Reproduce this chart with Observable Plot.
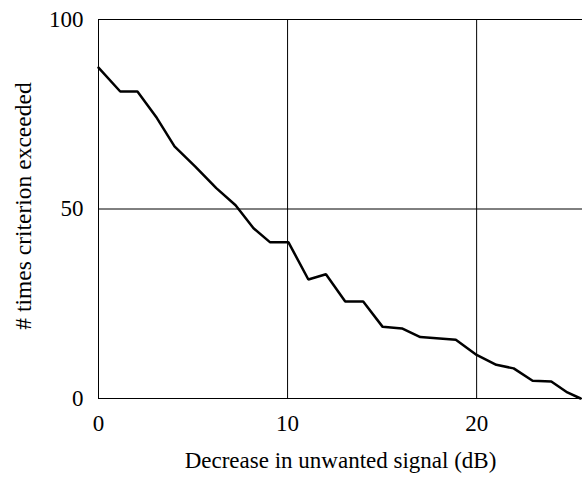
<!DOCTYPE html>
<html>
<head>
<meta charset="utf-8">
<script src="https://cdn.jsdelivr.net/npm/d3@7"></script>
<script src="https://cdn.jsdelivr.net/npm/@observablehq/plot@0.6"></script>
<style>
  html, body { margin: 0; padding: 0; background: #fff; }
  #chart svg { display: block; }
</style>
</head>
<body>
<div id="chart"></div>
<script>
const decreaseDb = [0, 1.15, 2.06, 3.09, 4.02, 5.12, 6.23, 7.25, 8.2, 9.08, 10.05, 11.1, 12.03, 13.05, 14.0, 15.03, 16.05, 17.02, 18.9, 20.0, 21.04, 21.96, 22.96, 23.95, 24.8, 25.5];
const timesExceeded = [87.3, 81.0, 81.0, 74.0, 66.5, 61.2, 55.5, 51.0, 44.9, 41.2, 41.2, 31.4, 32.8, 25.6, 25.6, 18.9, 18.5, 16.2, 15.5, 11.5, 8.9, 7.95, 4.7, 4.5, 1.6, 0];
const xTicks = [0, 10, 20];
const yTicks = [0, 50, 100];
const xLabel = "Decrease in unwanted signal (dB)";
const yLabel = "# times criterion exceeded";

const data = decreaseDb.map((x, i) => ({x, y: timesExceeded[i]}));

const chart = Plot.plot({
  width: 582,
  height: 477,
  marginLeft: 98,
  marginRight: 0,
  marginTop: 19,
  marginBottom: 79,
  style: {fontFamily: "'Liberation Serif', 'Times New Roman', serif", fontSize: "23px", color: "#000", background: "#fff"},
  x: {domain: [0, 25.6], ticks: xTicks, tickSize: 0, tickPadding: 16, label: null},
  y: {domain: [0, 100], ticks: yTicks, tickSize: 0, tickPadding: 15, label: null},
  marks: [
    Plot.ruleY(yTicks, {stroke: "#000", strokeWidth: 1}),
    Plot.ruleX(xTicks, {y1: 0, y2: 100, stroke: "#000", strokeWidth: 1}),
    Plot.line(data, {x: "x", y: "y", stroke: "#000", strokeWidth: 2.5, strokeLinejoin: "miter"}),
    Plot.text([xLabel], {frameAnchor: "bottom", textAnchor: "middle", lineAnchor: "middle", dy: 62, fontSize: 23, fill: "#000"}),
    Plot.text([yLabel], {frameAnchor: "left", textAnchor: "middle", lineAnchor: "middle", rotate: -90, dx: -75, dy: -3, fontSize: 23.5, fill: "#000"})
  ]
});
document.getElementById("chart").appendChild(chart);
</script>
</body>
</html>
